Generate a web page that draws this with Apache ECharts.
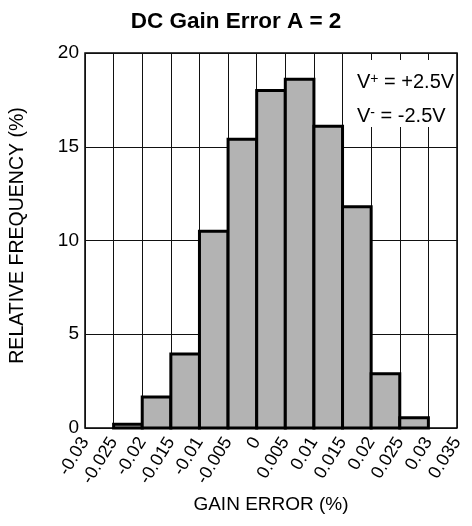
<!DOCTYPE html>
<html>
<head>
<meta charset="utf-8">
<script src="https://cdn.jsdelivr.net/npm/echarts@6/dist/echarts.min.js"></script>
<style>
html,body{margin:0;padding:0;background:#fff;}
#chart{width:472px;height:526px;}
</style>
</head>
<body>
<div id="chart"></div>
<script>
// Histogram bins (gain error %, bin start / end) and relative frequency (%)
var binStart = [-0.025, -0.02, -0.015, -0.01, -0.005, 0, 0.005, 0.01, 0.015, 0.02, 0.025];
var binEnd   = [-0.02, -0.015, -0.01, -0.005, 0, 0.005, 0.01, 0.015, 0.02, 0.025, 0.03];
var frequency = [0.2, 1.65, 3.95, 10.5, 15.4, 18.0, 18.6, 16.1, 11.8, 2.9, 0.55];
var xTickLabels = ['-0.03', '-0.025', '-0.02', '-0.015', '-0.01', '-0.005', '0',
                   '0.005', '0.01', '0.015', '0.02', '0.025', '0.03', '0.035'];
var yTickLabels = ['0', '5', '10', '15', '20'];
var X_MIN = -0.03, X_MAX = 0.035, X_STEP = 0.005;
var Y_MIN = 0, Y_MAX = 20, Y_STEP = 5;

var FONT = "'Liberation Sans', Arial, Helvetica, sans-serif";
var chart = echarts.init(document.getElementById('chart'), null, {renderer: 'canvas'});

var data = binStart.map(function (s, i) { return [s, binEnd[i], frequency[i]]; });

chart.setOption({
  animation: false,
  backgroundColor: '#fff',
  textStyle: {fontFamily: FONT},
  title: {
    text: 'DC Gain Error A = 2',
    left: 'center',
    top: 5,
    padding: [5, 5, 5, 13],
    textStyle: {fontFamily: FONT, fontSize: 22.5, fontWeight: 'bold', color: '#000'}
  },
  grid: {
    left: 83, right: 15, top: 53, bottom: 98,
    show: true, borderColor: '#000', borderWidth: 1.5, backgroundColor: 'transparent'
  },
  xAxis: {
    type: 'value',
    min: X_MIN, max: X_MAX, interval: X_STEP,
    name: 'GAIN ERROR (%)',
    nameLocation: 'middle',
    nameGap: 67,
    nameTextStyle: {fontFamily: FONT, fontSize: 19, color: '#000'},
    axisLine: {show: false},
    axisTick: {show: false},
    splitLine: {show: true, lineStyle: {color: '#111', width: 1}},
    axisLabel: {
      rotate: 58, margin: 11, padding: [8, 0, 0, 0],
      fontFamily: FONT, fontSize: 18, color: '#000',
      formatter: function (v) {
        var i = Math.round((v - X_MIN) / X_STEP);
        return xTickLabels[i] !== undefined ? xTickLabels[i] : '';
      }
    }
  },
  yAxis: {
    type: 'value',
    min: Y_MIN, max: Y_MAX, interval: Y_STEP,
    name: 'RELATIVE FREQUENCY (%)',
    nameLocation: 'middle',
    nameGap: 57,
    nameTextStyle: {fontFamily: FONT, fontSize: 19.5, color: '#000', padding: [0, 0, 0, 10]},
    axisLine: {show: false},
    axisTick: {show: false},
    splitLine: {show: true, lineStyle: {color: '#111', width: 1}},
    axisLabel: {
      margin: 6, fontFamily: FONT, fontSize: 19, color: '#000',
      formatter: function (v) {
        var i = Math.round((v - Y_MIN) / Y_STEP);
        return yTickLabels[i] !== undefined ? yTickLabels[i] : '';
      }
    }
  },
  series: [{
    type: 'custom',
    data: data,
    encode: {x: [0, 1], y: 2},
    z: 5,
    renderItem: function (params, api) {
      var topLeft = api.coord([api.value(0), api.value(2)]);
      var bottomRight = api.coord([api.value(1), 0]);
      return {
        type: 'rect',
        shape: {
          x: topLeft[0], y: topLeft[1],
          width: bottomRight[0] - topLeft[0],
          height: bottomRight[1] - topLeft[1]
        },
        style: {fill: '#b3b3b3', stroke: '#000', lineWidth: 3}
      };
    }
  }],
  graphic: [
    {
      type: 'rect', left: 351, top: 60, z: 10,
      shape: {width: 99, height: 67},
      style: {fill: '#fff'}
    },
    {
      type: 'text', left: 357, top: 72, z: 11,
      style: {
        text: '{m|V}{sup|+}{m| = +2.5V}',
        fill: '#000',
        rich: {
          m: {fontSize: 20, fontFamily: FONT, lineHeight: 20, verticalAlign: 'middle', fill: '#000'},
          sup: {fontSize: 14, fontFamily: FONT, lineHeight: 10, verticalAlign: 'top', fill: '#000'}
        }
      }
    },
    {
      type: 'text', left: 357, top: 106, z: 11,
      style: {
        text: '{m|V}{sup|-}{m| = -2.5V}',
        fill: '#000',
        rich: {
          m: {fontSize: 20, fontFamily: FONT, lineHeight: 20, verticalAlign: 'middle', fill: '#000'},
          sup: {fontSize: 14, fontFamily: FONT, lineHeight: 10, verticalAlign: 'top', fill: '#000'}
        }
      }
    }
  ]
});
</script>
</body>
</html>
